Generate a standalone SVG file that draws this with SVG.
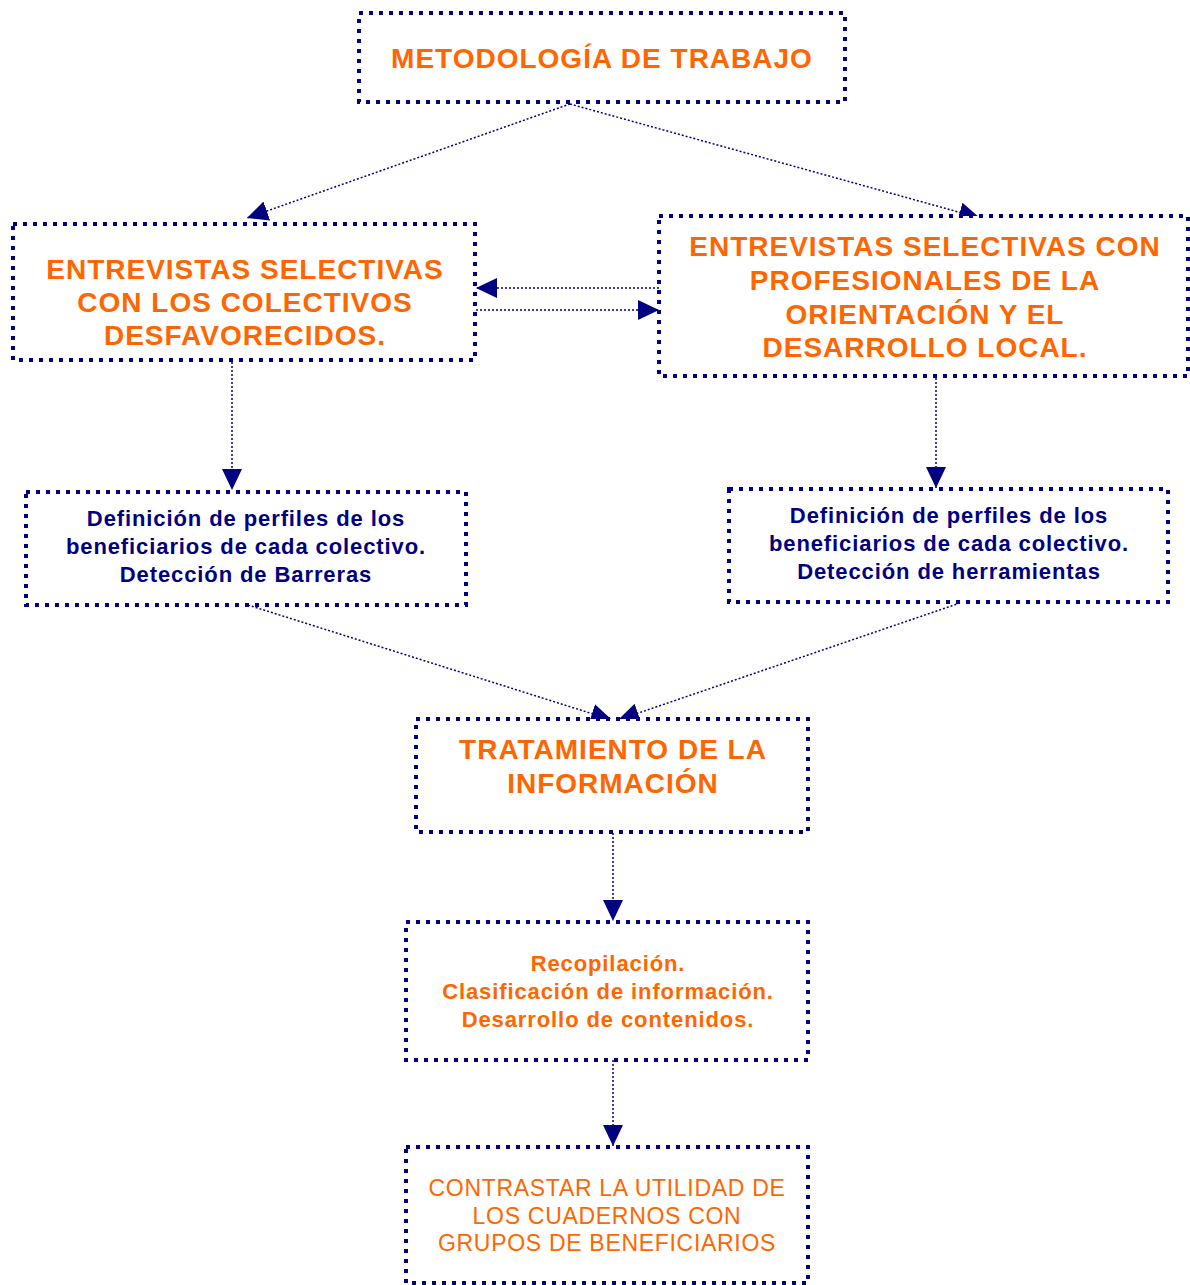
<svg xmlns="http://www.w3.org/2000/svg" width="1190" height="1285" viewBox="0 0 1190 1285">
<style>
.box{fill:#fff;stroke:#000080;stroke-width:4;stroke-dasharray:4 6}
.big{font-family:"Liberation Sans",Arial,sans-serif;font-weight:bold;font-size:28px;letter-spacing:1px;fill:#FF6600;text-anchor:middle;dominant-baseline:central}
.nav{font-family:"Liberation Sans",Arial,sans-serif;font-weight:bold;font-size:22px;letter-spacing:0.9px;fill:#000080;text-anchor:middle;dominant-baseline:central}
.org{font-family:"Liberation Sans",Arial,sans-serif;font-weight:bold;font-size:22px;letter-spacing:0.9px;fill:#FF6600;text-anchor:middle;dominant-baseline:central}
.reg{font-family:"Liberation Sans",Arial,sans-serif;font-size:23px;letter-spacing:0.7px;fill:#FF6600;text-anchor:middle;dominant-baseline:central}
.con{fill:none;stroke:#000080;stroke-width:1.5;stroke-dasharray:2 2}
</style>
<defs>
<marker id="ah" markerUnits="userSpaceOnUse" markerWidth="24" markerHeight="22" refX="21" refY="10" orient="auto">
<path d="M0,0 L21,10 L0,20 Z" fill="#000080"/>
</marker>
</defs>
<rect width="1190" height="1285" fill="#fff"/>
<g id="connectors">
<line class="con" x1="570" y1="104" x2="247" y2="218" marker-end="url(#ah)"/>
<line class="con" x1="570" y1="104" x2="980" y2="218" marker-end="url(#ah)"/>
<line class="con" x1="659" y1="288" x2="476" y2="288" marker-end="url(#ah)"/>
<line class="con" x1="476" y1="310" x2="659" y2="310" marker-end="url(#ah)"/>
<line class="con" x1="232" y1="362" x2="232" y2="490" marker-end="url(#ah)"/>
<line class="con" x1="936" y1="378" x2="936" y2="488" marker-end="url(#ah)"/>
<line class="con" x1="248" y1="605" x2="612" y2="720" marker-end="url(#ah)"/>
<line class="con" x1="960" y1="603" x2="618" y2="720" marker-end="url(#ah)"/>
<line class="con" x1="613" y1="833" x2="613" y2="921" marker-end="url(#ah)"/>
<line class="con" x1="613" y1="1060" x2="613" y2="1146" marker-end="url(#ah)"/>
</g>
<g id="n-metodologia">
<rect class="box" x="359" y="13" width="486" height="89"/>
<text class="big" x="602" y="58">METODOLOGÍA DE TRABAJO</text>
</g>
<g id="n-entrevistas-colectivos">
<rect class="box" x="13" y="224" width="462" height="136"/>
<text class="big" x="245" y="269">ENTREVISTAS SELECTIVAS</text>
<text class="big" x="245" y="302">CON LOS COLECTIVOS</text>
<text class="big" x="245" y="335">DESFAVORECIDOS.</text>
</g>
<g id="n-entrevistas-profesionales">
<rect class="box" x="659" y="216" width="529" height="160"/>
<text class="big" x="925" y="246">ENTREVISTAS SELECTIVAS CON</text>
<text class="big" x="925" y="280">PROFESIONALES DE LA</text>
<text class="big" x="925" y="314">ORIENTACIÓN Y EL</text>
<text class="big" x="925" y="347">DESARROLLO LOCAL.</text>
</g>
<g id="n-perfiles-barreras">
<rect class="box" x="26" y="492" width="440" height="113"/>
<text class="nav" x="246" y="518">Definición de perfiles de los</text>
<text class="nav" x="246" y="546">beneficiarios de cada colectivo.</text>
<text class="nav" x="246" y="574">Detección de Barreras</text>
</g>
<g id="n-perfiles-herramientas">
<rect class="box" x="729" y="489" width="439" height="113"/>
<text class="nav" x="949" y="515">Definición de perfiles de los</text>
<text class="nav" x="949" y="543">beneficiarios de cada colectivo.</text>
<text class="nav" x="949" y="571">Detección de herramientas</text>
</g>
<g id="n-tratamiento">
<rect class="box" x="416" y="719" width="392" height="113"/>
<text class="big" x="613" y="749">TRATAMIENTO DE LA</text>
<text class="big" x="613" y="783">INFORMACIÓN</text>
</g>
<g id="n-recopilacion">
<rect class="box" x="406" y="922" width="402" height="138"/>
<text class="org" x="608" y="963">Recopilación.</text>
<text class="org" x="608" y="991">Clasificación de información.</text>
<text class="org" x="608" y="1019">Desarrollo de contenidos.</text>
</g>
<g id="n-contrastar">
<rect class="box" x="406" y="1147" width="402" height="136"/>
<text class="reg" x="607" y="1188">CONTRASTAR LA UTILIDAD DE</text>
<text class="reg" x="607" y="1216">LOS CUADERNOS CON</text>
<text class="reg" x="607" y="1243">GRUPOS DE BENEFICIARIOS</text>
</g>
</svg>
